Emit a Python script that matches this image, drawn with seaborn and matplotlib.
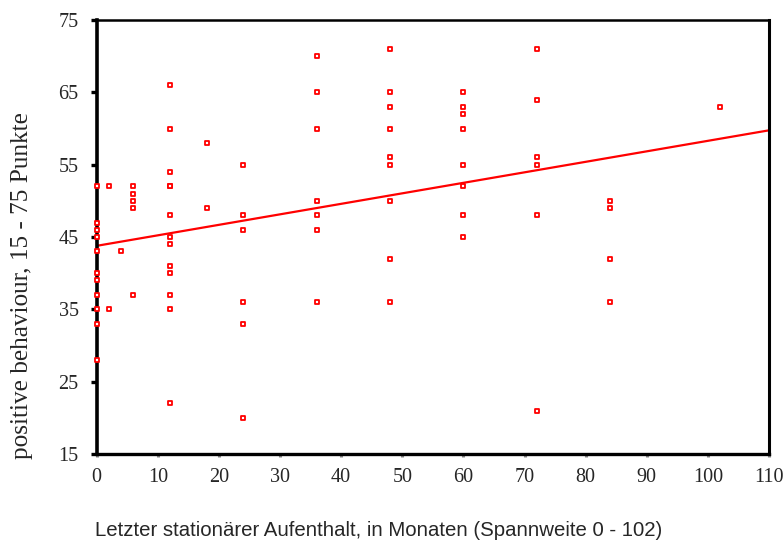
import numpy as np
import pandas as pd
import matplotlib
matplotlib.use("Agg")
import matplotlib.pyplot as plt
import seaborn as sns

# Data (months, score)
x_0 = [0] * 11
y_0 = [52, 47, 46, 45, 43, 40, 39, 37, 35, 33, 28]
x_2 = [2, 2]
y_2 = [52, 35]
x_4 = [4]
y_4 = [43]
x_6 = [6] * 5
y_6 = [52, 51, 50, 49, 37]
x_12 = [12] * 13
y_12 = [66, 60, 54, 52, 52, 48, 45, 44, 41, 40, 37, 35, 22]
x_18 = [18] * 2
y_18 = [58, 49]
x_24 = [24] * 6
y_24 = [55, 48, 46, 36, 33, 20]
x_36 = [36] * 7
y_36 = [70, 65, 60, 50, 48, 46, 36]
x_48 = [48] * 9
y_48 = [71, 65, 63, 60, 56, 55, 50, 42, 36]
x_60 = [60] * 8
y_60 = [65, 63, 62, 60, 55, 52, 48, 45]
x_72 = [72] * 6
y_72 = [71, 64, 56, 55, 48, 21]
x_84 = [84] * 4
y_84 = [50, 49, 42, 36]
x_102 = [102]
y_102 = [63]

months = x_0 + x_2 + x_4 + x_6 + x_12 + x_18 + x_24 + x_36 + x_48 + x_60 + x_72 + x_84 + x_102
score = y_0 + y_2 + y_4 + y_6 + y_12 + y_18 + y_24 + y_36 + y_48 + y_60 + y_72 + y_84 + y_102
df = pd.DataFrame({"months": months, "score": score})

x_ticks = list(range(0, 111, 10))
y_ticks = [15, 25, 35, 45, 55, 65, 75]

sns.set_style("white")
plt.rcParams["font.family"] = ["Liberation Serif", "DejaVu Serif"]

fig = plt.figure(figsize=(7.84, 5.40), dpi=100)
ax = fig.add_axes([96.7 / 784, 1 - 454 / 540, (769 - 96.7) / 784, (454 - 20) / 540])
ax.set_xlim(0, 110)
ax.set_ylim(15, 75)

sns.regplot(data=df, x="months", y="score", ax=ax, scatter=False, ci=None,
            truncate=False, color="#ff0000", line_kws={"linewidth": 1.6})
sns.scatterplot(data=df, x="months", y="score", ax=ax, marker="s", s=12,
                facecolor="white", edgecolor="#ff0000", linewidth=1.3,
                zorder=5, clip_on=False)

ax.set_xlim(0, 110)
ax.set_ylim(15, 75)
ax.set_xticks(x_ticks)
ax.set_yticks(y_ticks)
ax.set_xlabel("")
ax.set_ylabel("")

for side in ["left", "bottom", "top", "right"]:
    ax.spines[side].set_visible(True)
    ax.spines[side].set_color("black")
ax.spines["left"].set_linewidth(2.6)
ax.spines["bottom"].set_linewidth(2.4)
ax.spines["top"].set_linewidth(1.8)
ax.spines["right"].set_linewidth(2.2)

ax.tick_params(axis="y", direction="out", length=4, width=2.4, color="black",
               labelsize=14.5, pad=9, left=True)
ax.tick_params(axis="x", direction="out", length=2, width=2.2, color="#888888",
               labelsize=14.5, pad=8, bottom=True)

fig.text(22 / 784, 1 - 286 / 540, "positive behaviour, 15 - 75 Punkte",
         rotation=90, ha="center", va="center", fontsize=18.2,
         family=["Liberation Serif", "DejaVu Serif"])
fig.text(95 / 784, 1 - 531 / 540,
         "Letzter stationärer Aufenthalt, in Monaten (Spannweite 0 - 102)",
         ha="left", va="center", fontsize=14.7,
         family=["Liberation Sans", "DejaVu Sans"])

fig.savefig("out.png", dpi=100)
